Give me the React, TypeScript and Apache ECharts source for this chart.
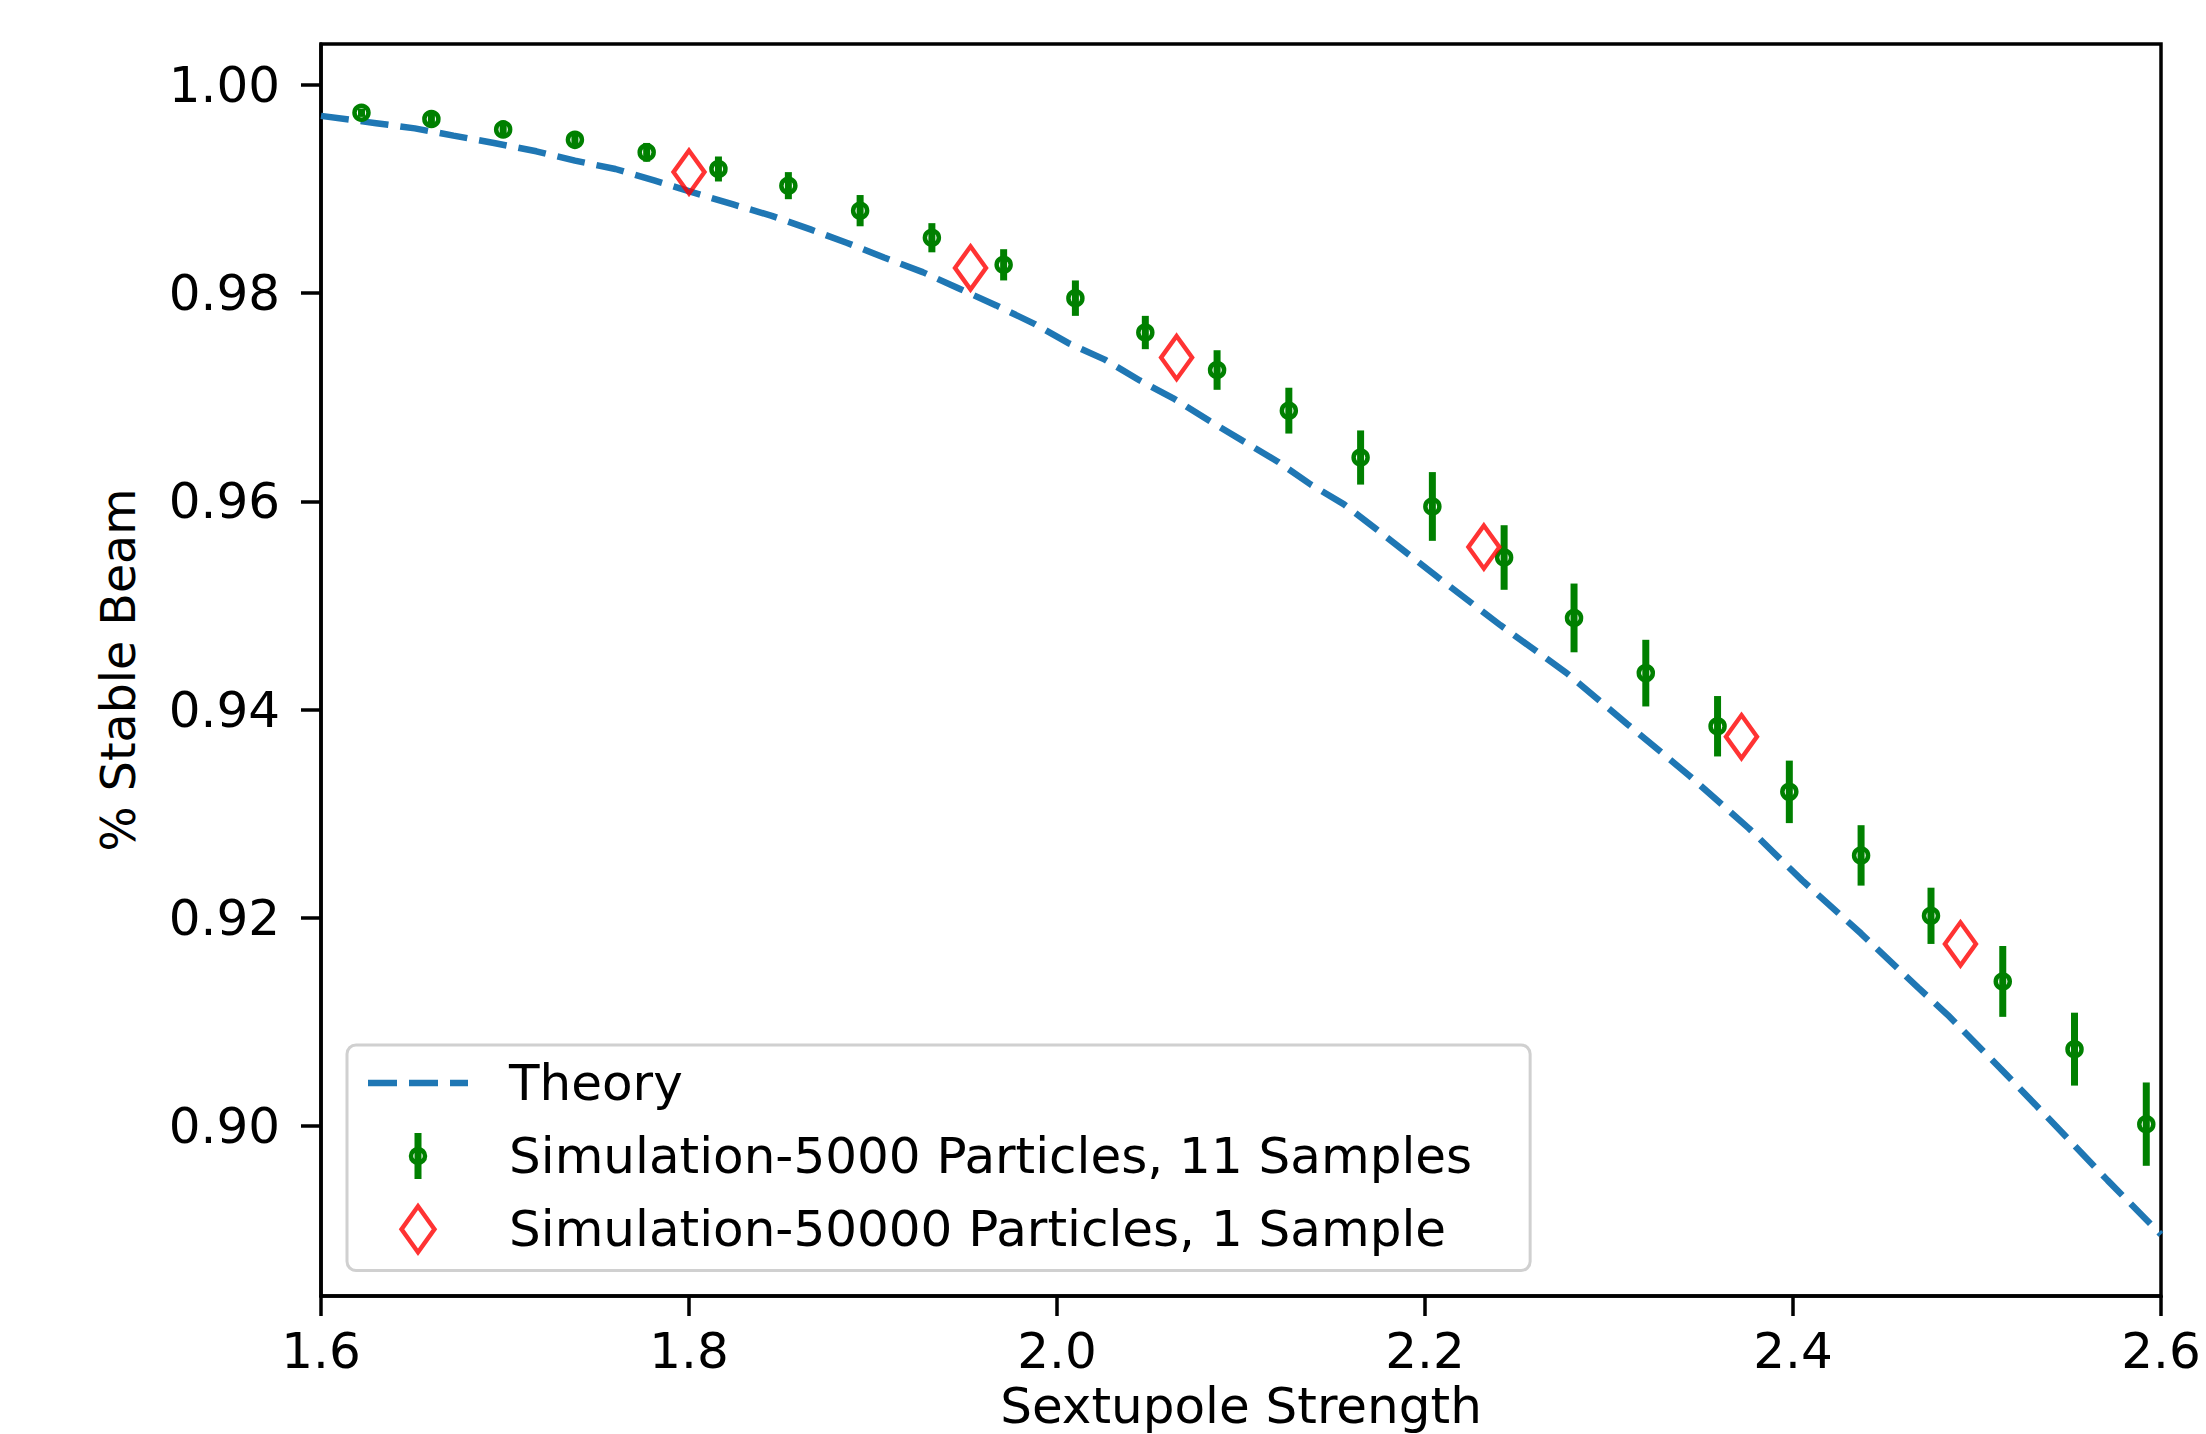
import React, { useEffect, useRef } from "react";
import * as echarts from "echarts";

const xTicks = [1.6, 1.8, 2.0, 2.2, 2.4, 2.6];
const yTicks = [0.9, 0.92, 0.94, 0.96, 0.98, 1.0];

const theoryX = [1.600, 1.630, 1.651, 1.672, 1.694, 1.717, 1.738, 1.760, 1.781, 1.803, 1.824, 1.845, 1.866, 1.886, 1.906, 1.927, 1.947, 1.967, 1.988, 2.006, 2.026, 2.045, 2.064, 2.083, 2.101, 2.120, 2.138, 2.156, 2.173, 2.207, 2.241, 2.277, 2.310, 2.344, 2.376, 2.405, 2.437, 2.468, 2.484, 2.513, 2.543, 2.571, 2.600];
const theoryY = [0.9970, 0.9963, 0.9958, 0.9951, 0.9944, 0.9936, 0.9927, 0.9919, 0.9908, 0.9896, 0.9885, 0.9874, 0.9861, 0.9848, 0.9834, 0.9820, 0.9804, 0.9788, 0.9770, 0.9752, 0.9736, 0.9716, 0.9698, 0.9677, 0.9658, 0.9638, 0.9616, 0.9597, 0.9574, 0.9527, 0.9481, 0.9435, 0.9386, 0.9336, 0.9286, 0.9236, 0.9185, 0.9133, 0.9107, 0.9055, 0.9000, 0.8948, 0.8896];

const simX = [1.622, 1.660, 1.699, 1.738, 1.777, 1.816, 1.854, 1.893, 1.932, 1.971, 2.010, 2.048, 2.087, 2.126, 2.165, 2.204, 2.243, 2.281, 2.320, 2.359, 2.398, 2.437, 2.475, 2.514, 2.553, 2.592];
const simY = [0.9973, 0.9967, 0.9957, 0.9947, 0.9935, 0.9919, 0.9903, 0.9879, 0.9853, 0.9827, 0.9795, 0.9762, 0.9726, 0.9687, 0.9642, 0.9595, 0.9546, 0.9488, 0.9435, 0.9384, 0.9321, 0.9260, 0.9202, 0.9139, 0.9074, 0.9002];
const simErr = [0.0004, 0.0005, 0.0006, 0.0007, 0.0009, 0.0012, 0.0013, 0.0015, 0.0014, 0.0015, 0.0017, 0.0016, 0.0019, 0.0022, 0.0026, 0.0033, 0.0031, 0.0033, 0.0032, 0.0029, 0.0030, 0.0029, 0.0027, 0.0034, 0.0035, 0.0040];

const hiX = [1.800, 1.953, 2.065, 2.232, 2.372, 2.491];
const hiY = [0.9916, 0.9824, 0.9738, 0.9556, 0.9374, 0.9175];

const FONT = "DejaVu Sans";
const FS = 50;
const NAME_THEORY = "Theory";
const NAME_SIM = "Simulation-5000 Particles, 11 Samples";
const NAME_HI = "Simulation-50000 Particles, 1 Sample";

const GREEN = "#008000";
const RED = "#ff0000";
const BLUE = "#1f77b4";

const DASH_ICON =
  "path://M0,0 L29,0 L29,6.5 L0,6.5 Z M41,0 L70,0 L70,6.5 L41,6.5 Z M82,0 L100,0 L100,6.5 L82,6.5 Z";
const ERRBAR_ICON =
  "path://M3.5,0 L10.5,0 L10.5,46 L3.5,46 Z M16.25,23 A9.25,9.25 0 1,1 -2.25,23 A9.25,9.25 0 1,1 16.25,23 Z M11.75,23 A4.75,4.75 0 1,0 2.25,23 A4.75,4.75 0 1,0 11.75,23 Z";
const DIAMOND_ICON = "path://M15,0 L30,21 L15,42 L0,21 Z";

export default function App() {
  const ref = useRef<HTMLDivElement>(null);

  useEffect(() => {
    document.body.style.margin = "0";
    const chart = echarts.init(ref.current as HTMLDivElement, null, { renderer: "svg" });

    const axisCommon = {
      type: "value" as const,
      nameLocation: "middle" as const,
      axisLine: { show: true, onZero: false, lineStyle: { color: "#000", width: 3.5 } },
      splitLine: { show: false },
    };

    chart.setOption({
      animation: false,
      backgroundColor: "#ffffff",
      textStyle: { fontFamily: FONT },
      grid: {
        left: 321,
        right: 45,
        top: 44,
        bottom: 138,
        containLabel: false,
        outerBoundsMode: "none",
        show: true,
        borderColor: "#000",
        borderWidth: 3.5,
        backgroundColor: "transparent",
      },
      xAxis: {
        ...axisCommon,
        min: 1.6,
        max: 2.6,
        name: "Sextupole Strength",
        nameGap: 84,
        nameTextStyle: { fontSize: FS, color: "#000", fontFamily: FONT },
        axisTick: { show: true, length: 20, customValues: xTicks, lineStyle: { color: "#000", width: 3.5 } },
        axisLabel: {
          customValues: xTicks,
          margin: 30,
          fontSize: FS,
          color: "#000",
          fontFamily: FONT,
          formatter: (v: number) => v.toFixed(1),
        },
      },
      yAxis: {
        ...axisCommon,
        min: 0.8837,
        max: 1.0039,
        name: "% Stable Beam",
        nameGap: 179,
        nameTextStyle: { fontSize: 47.5, color: "#000", fontFamily: FONT },
        axisTick: { show: true, length: 20, customValues: yTicks, lineStyle: { color: "#000", width: 3.5 } },
        axisLabel: {
          customValues: yTicks,
          margin: 41,
          fontSize: FS,
          color: "#000",
          fontFamily: FONT,
          formatter: (v: number) => v.toFixed(2),
        },
      },
      legend: {
        orient: "vertical",
        left: 347,
        top: 1045,
        padding: [13, 58, 16, 21],
        itemGap: 23,
        itemWidth: 100,
        itemHeight: 46,
        backgroundColor: "rgba(255,255,255,0.8)",
        borderColor: "#d0d0d0",
        borderWidth: 3,
        borderRadius: 9,
        selectedMode: false,
        textStyle: { fontSize: FS, color: "#000", fontFamily: FONT, padding: [0, 0, 0, 36] },
        data: [
          { name: NAME_THEORY, icon: DASH_ICON, itemStyle: { color: BLUE, borderWidth: 0 } },
          { name: NAME_SIM, icon: ERRBAR_ICON, itemStyle: { color: GREEN, borderWidth: 0 } },
          {
            name: NAME_HI,
            icon: DIAMOND_ICON,
            itemStyle: { color: "rgba(0,0,0,0)", borderColor: RED, borderWidth: 4.5 },
          },
        ],
      },
      series: [
        {
          type: "line",
          name: NAME_THEORY,
          data: theoryX.map((x, i) => [x, theoryY[i]]),
          symbol: "none",
          showSymbol: false,
          lineStyle: { color: BLUE, width: 6.5, type: [28, 12] },
          itemStyle: { color: BLUE },
          z: 2,
          silent: true,
        },
        {
          type: "custom",
          name: NAME_SIM,
          data: simX.map((x, i) => [x, simY[i], simErr[i]]),
          encode: { x: 0, y: 1 },
          itemStyle: { color: GREEN },
          z: 3,
          silent: true,
          renderItem: (_params: any, api: any) => {
            const x = api.value(0);
            const y = api.value(1);
            const e = api.value(2);
            const top = api.coord([x, y + e]);
            const bot = api.coord([x, y - e]);
            const c = api.coord([x, y]);
            return {
              type: "group",
              children: [
                {
                  type: "line",
                  shape: { x1: top[0], y1: top[1], x2: bot[0], y2: bot[1] },
                  style: { stroke: GREEN, lineWidth: 7 },
                },
                {
                  type: "circle",
                  shape: { cx: c[0], cy: c[1], r: 7 },
                  style: { fill: "none", stroke: GREEN, lineWidth: 4.5 },
                },
              ],
            };
          },
        },
        {
          type: "scatter",
          name: NAME_HI,
          data: hiX.map((x, i) => [x, hiY[i]]),
          symbol: "diamond",
          symbolSize: [31, 43],
          itemStyle: { color: "rgba(0,0,0,0)", borderColor: RED, borderWidth: 4.5 },
          z: 4,
          silent: true,
        },
      ],
    });

    return () => chart.dispose();
  }, []);

  return <div ref={ref} style={{ width: 2206, height: 1434 }} />;
}
